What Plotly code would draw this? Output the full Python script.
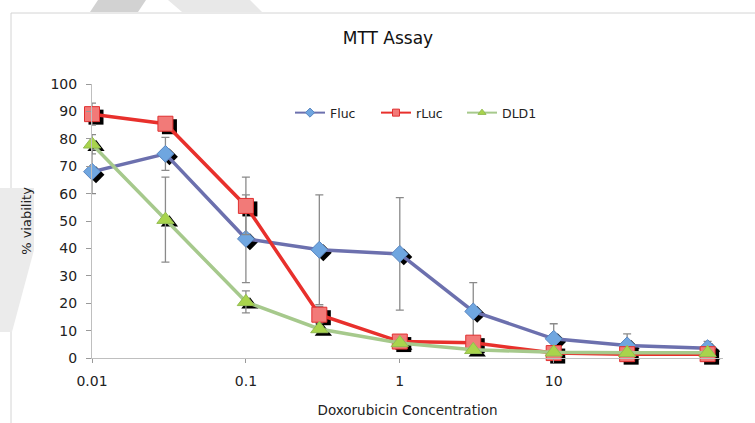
import plotly.graph_objects as go

# ---------------- data ----------------
conc = [0.01, 0.03, 0.1, 0.3, 1, 3, 10, 30, 100]
fluc = [68, 74.5, 43.5, 39.5, 38, 17, 7, 4.6, 3.6]
fluc_err = [8, 6, 16, 20, 20.5, 10.5, 5.5, 4.2, 2.5]
rluc = [89, 85.5, 55.5, 15.8, 6, 5.6, 1.8, 1.4, 1.4]
rluc_err = [4, 2, 10.5, 3, 1, 1, 0.5, 0.5, 0.5]
dld1 = [78, 50.5, 20.5, 10.6, 5.5, 3, 2.1, 1.9, 1.9]
dld1_err = [3.5, 15.5, 4, 1, 1, 1, 0.5, 0.5, 0.5]
x_ticks = [0.01, 0.1, 1, 10]
x_tick_text = ["0.01", "0.1", "1", "10"]
y_ticks = [0, 10, 20, 30, 40, 50, 60, 70, 80, 90, 100]

series = [
    ("Fluc", fluc, fluc_err, "#6C70AE", "#6FA6E0", "#5A86C0", "diamond", 13),
    ("rLuc", rluc, rluc_err, "#E8302C", "#F27A78", "#E03030", "square", 15),
    ("DLD1", dld1, dld1_err, "#A6C98C", "#A9D44C", "#93BC52", "triangle-up", 15),
]

# ---------------- geometry ----------------
W, H = 755, 423
L, R, T, B = 92, 723, 84, 358
pw, ph = R - L, B - T
XR = [-2, 2.1]
YR = [0, 100]
sx = 4 * (XR[1] - XR[0]) / pw   # shadow shift right ~4px
sy = 3 * (YR[1] - YR[0]) / ph   # shadow shift down ~3px

def px(x):
    return (x - L) / pw

def py(y):
    return (B - y) / ph

FONT = "DejaVu Sans"
fig = go.Figure()

# shadows (bottom layer, invisible axes x/y)
for name, vals, err, lc, mc, mlc, sym, sz in series:
    fig.add_trace(go.Scatter(
        x=conc, y=vals, mode="markers", xaxis="x", yaxis="y",
        marker=dict(symbol=sym, size=sz, color="black", line=dict(width=0)),
        showlegend=False, hoverinfo="skip", cliponaxis=False))

# main traces
for name, vals, err, lc, mc, mlc, sym, sz in series:
    fig.add_trace(go.Scatter(
        x=conc, y=vals, mode="lines+markers", xaxis="x2", yaxis="y2", name=name,
        line=dict(color=lc, width=3.5),
        marker=dict(symbol=sym, size=sz, color=mc, line=dict(color=mlc, width=1)),
        error_y=dict(type="data", array=err, visible=True, color="#8a8a8a",
                     thickness=1.3, width=4),
        showlegend=False, cliponaxis=False))

# legend entries
for name, vals, err, lc, mc, mlc, sym, sz in series:
    fig.add_trace(go.Scatter(
        x=[None], y=[None], mode="lines+markers", xaxis="x2", yaxis="y2", name=name,
        line=dict(color=lc, width=2),
        marker=dict(symbol=sym, size=7, color=mc, line=dict(color=mlc, width=1))))

shapes = [
    # chart outer border
    dict(type="rect", xref="paper", yref="paper", x0=px(11), x1=px(770),
         y0=py(440), y1=py(13), line=dict(color="#d4d4d4", width=1), layer="below"),
    # faint watermark pieces
    dict(type="path", xref="paper", yref="paper", layer="below",
         path=f"M {px(0)},{py(188)} L {px(34)},{py(188)} L {px(34)},{py(250)} L {px(12)},{py(332)} L {px(0)},{py(332)} Z",
         fillcolor="#ebebeb", line=dict(width=0)),
    dict(type="path", xref="paper", yref="paper", layer="below",
         path=f"M {px(98)},{py(0)} L {px(146)},{py(0)} L {px(138)},{py(12)} L {px(90)},{py(12)} Z",
         fillcolor="#d2d2d2", line=dict(width=0)),
    dict(type="path", xref="paper", yref="paper", layer="below",
         path=f"M {px(168)},{py(0)} L {px(250)},{py(0)} L {px(262)},{py(12)} L {px(182)},{py(12)} Z",
         fillcolor="#e8e8e8", line=dict(width=0)),
]

fig.update_layout(
    width=W, height=H,
    margin=dict(l=L, r=W - R, t=T, b=H - B, autoexpand=False),
    paper_bgcolor="white", plot_bgcolor="rgba(0,0,0,0)",
    font=dict(family=FONT, color="#222222", size=14),
    title=dict(text="MTT Assay", x=(388) / W, xanchor="center",
               y=1 - 38 / H, yanchor="middle", font=dict(size=17, color="#111111")),
    xaxis=dict(type="log", range=[XR[0] - sx, XR[1] - sx], visible=False,
               domain=[0, 1], automargin=False),
    yaxis=dict(range=[YR[0] + sy, YR[1] + sy], visible=False, domain=[0, 1],
               automargin=False),
    xaxis2=dict(type="log", range=XR, overlaying="x", anchor="y2",
                tickvals=x_ticks, ticktext=x_tick_text,
                ticks="outside", ticklen=4, tickcolor="#9a9a9a",
                showline=True, linecolor="#bfbfbf", linewidth=1,
                showgrid=False, zeroline=False, ticklabelstandoff=6,
                tickfont=dict(size=14), automargin=False,
                title=dict(text="Doxorubicin Concentration", standoff=17,
                           font=dict(size=13.5))),
    yaxis2=dict(range=YR, overlaying="y", anchor="x2",
                tickvals=y_ticks, ticks="outside", ticklen=5, tickcolor="#9a9a9a",
                showline=True, linecolor="#bfbfbf", linewidth=1,
                showgrid=False, zeroline=False, ticklabelstandoff=6,
                tickfont=dict(size=14), automargin=False,
                title=dict(text="% viability", standoff=15, font=dict(size=13))),
    legend=dict(orientation="h", x=px(290), xanchor="left", y=py(113),
                yanchor="middle", font=dict(size=12.5, color="#222222"),
                bgcolor="rgba(0,0,0,0)", itemwidth=30, tracegroupgap=0,
                entrywidth=41, entrywidthmode="pixels"),
    shapes=shapes,
    showlegend=True,
)

fig.write_html("out.html")
